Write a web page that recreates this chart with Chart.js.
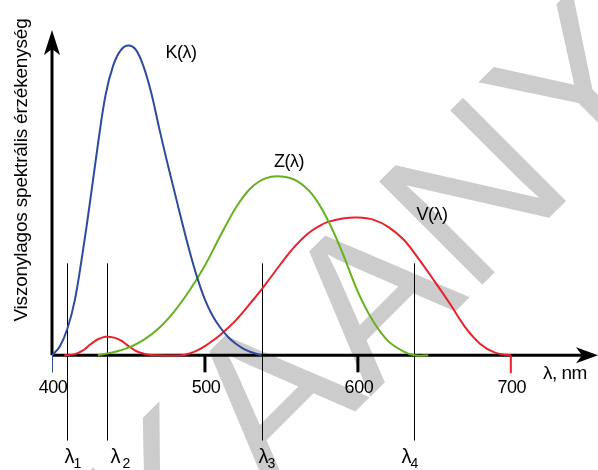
<!DOCTYPE html>
<html>
<head>
<meta charset="utf-8">
<script src="https://cdn.jsdelivr.net/npm/chart.js@4/dist/chart.umd.min.js"></script>
<style>
html,body{margin:0;padding:0;background:#fff;}
canvas{display:block;}
</style>
</head>
<body>
<canvas id="c" width="598" height="470"></canvas>
<script>
// ---- data (wavelength in nm, relative sensitivity) ----
const kWavelengths = [400,405,410,415,420,425,430,435,440,445,450,455,460,465,470,475,480,485,490,495,500,505,510,515,520,525,530,537];
const kValues      = [0,0.028,0.085,0.18,0.33,0.5,0.68,0.84,0.935,0.985,1.0,0.985,0.93,0.845,0.735,0.63,0.53,0.43,0.335,0.25,0.18,0.128,0.09,0.06,0.038,0.022,0.011,0];
const kStartDrop   = [[400,-0.055],[400,0]];

const zWavelengths = [430,440,450,460,470,480,490,500,510,520,530,540,550,560,570,580,590,600,610,620,630,637,646];
const zValues      = [0,0.01,0.025,0.05,0.088,0.142,0.21,0.29,0.385,0.475,0.54,0.572,0.577,0.563,0.52,0.44,0.33,0.205,0.11,0.045,0.012,0,0];

const vWavelengths = [408,415,420,425,430,435,440,445,450,455,460,465,470,485,490,495,500,505,510,515,520,525,530,535,540,545,550,555,560,565,570,575,580,590,600,610,620,630,640,650,660,670,680,690,700];
const vValues      = [0,0.004,0.015,0.035,0.052,0.06,0.058,0.048,0.03,0.014,0.005,0.001,0,0,0.006,0.016,0.03,0.047,0.066,0.088,0.112,0.14,0.17,0.2,0.232,0.265,0.298,0.33,0.358,0.383,0.403,0.418,0.43,0.442,0.445,0.438,0.414,0.373,0.31,0.24,0.168,0.092,0.037,0.008,0];
const vEndDrop     = [[700,0],[700,-0.058]];

const tickValues  = [400,500,600,700];
const tickLabels  = ['400','500','600','700'];
const markedTicks = [500,600];
const lambdaMarks = [410,436,537,637];
const lambdaSubs  = ['1','2','3','4'];
const curveNames  = ['K(λ)','Z(λ)','V(λ)'];
const axisTitleY  = 'Viszonylagos spektrális érzékenység';
const axisTitleX  = 'λ, nm';

const BLUE = '#2c4a9e', GREEN = '#66b21e', RED = '#e8212b';
const FONT = '"Liberation Sans", Arial, sans-serif';

function pts(xs, ys){ return xs.map((x,i)=>({x:x,y:ys[i]})); }
function pairs(a){ return a.map(p=>({x:p[0],y:p[1]})); }

const watermark = {
  id:'watermark',
  beforeDraw(chart){
    const ctx = chart.ctx;
    ctx.save();
    ctx.fillStyle = '#cccccc';
    ctx.font = '212px ' + FONT;
    ctx.translate(270, 497);
    ctx.rotate(-Math.PI/4);
    ctx.textBaseline = 'alphabetic';
    ctx.textAlign = 'right';
    ctx.fillText('K', 0, 0);
    ctx.textAlign = 'left';
    ctx.fillText('AANY', 0, 0);
    ctx.restore();
  }
};

const labelShift = [-3, 3, -4, -13];

const axes = {
  id:'axes',
  beforeDatasetsDraw(chart){
    const ctx = chart.ctx, xs = chart.scales.x, ys = chart.scales.y;
    const x0 = xs.getPixelForValue(400), y0 = ys.getPixelForValue(0);
    const xEnd = xs.getPixelForValue(xs.max), yTop = ys.getPixelForValue(ys.max);
    ctx.save();
    ctx.strokeStyle = '#000'; ctx.fillStyle = '#000';
    ctx.lineWidth = 3;
    ctx.beginPath(); ctx.moveTo(x0, y0); ctx.lineTo(xEnd-12, y0); ctx.stroke();
    ctx.beginPath(); ctx.moveTo(x0, y0); ctx.lineTo(x0, yTop+12); ctx.stroke();
    // arrowheads
    ctx.beginPath();
    ctx.moveTo(xEnd, y0); ctx.lineTo(xEnd-22, y0-8); ctx.lineTo(xEnd-16, y0); ctx.lineTo(xEnd-22, y0+8); ctx.closePath(); ctx.fill();
    ctx.beginPath();
    ctx.moveTo(x0, yTop); ctx.lineTo(x0-8, yTop+25); ctx.lineTo(x0, yTop+19); ctx.lineTo(x0+8, yTop+25); ctx.closePath(); ctx.fill();
    // ticks
    markedTicks.forEach(v=>{
      const px = xs.getPixelForValue(v);
      ctx.beginPath(); ctx.moveTo(px, y0); ctx.lineTo(px, y0+17); ctx.stroke();
    });
    // tick labels
    ctx.font = '18px ' + FONT;
    ctx.letterSpacing = '-0.5px';
    ctx.textAlign = 'center'; ctx.textBaseline = 'middle';
    tickValues.forEach((v,i)=>{
      ctx.fillText(tickLabels[i], xs.getPixelForValue(v)+1, y0+33);
    });
    ctx.textAlign = 'left';
    ctx.font = '19px ' + FONT;
    ctx.fillText(axisTitleX, 543, y0+18);
    // lambda marker lines
    ctx.lineWidth = 1;
    ctx.letterSpacing = '0px';
    lambdaMarks.forEach((v,i)=>{
      const px = Math.round(xs.getPixelForValue(v))+0.5;
      ctx.beginPath(); ctx.moveTo(px, ys.getPixelForValue(0.297)); ctx.lineTo(px, ys.getPixelForValue(-0.275)); ctx.stroke();
      ctx.textAlign = 'left'; ctx.textBaseline = 'alphabetic';
      ctx.font = '20px ' + FONT;
      const lw = ctx.measureText('λ').width;
      const lx = px + labelShift[i];
      ctx.fillText('λ', lx, 463);
      ctx.font = '14px ' + FONT;
      ctx.fillText(lambdaSubs[i], lx + lw - 1 + (i===1 ? 3 : 0), 468);
    });
    // y title
    ctx.save();
    ctx.font = '19px ' + FONT;
    ctx.letterSpacing = '-0.2px';
    ctx.translate(22, 170);
    ctx.rotate(-Math.PI/2);
    ctx.textAlign = 'center'; ctx.textBaseline = 'middle';
    ctx.fillText(axisTitleY, 0, 0);
    ctx.restore();
    // curve labels
    ctx.font = '18px ' + FONT;
    ctx.letterSpacing = '-0.5px';
    ctx.textAlign = 'center'; ctx.textBaseline = 'middle';
    ctx.fillText(curveNames[0], xs.getPixelForValue(484.4), ys.getPixelForValue(0.977));
    ctx.fillText(curveNames[1], xs.getPixelForValue(555), ys.getPixelForValue(0.623));
    ctx.fillText(curveNames[2], xs.getPixelForValue(648.5), ys.getPixelForValue(0.452));
    ctx.restore();
  }
};

const common = {pointRadius:0, borderWidth:2, fill:false, tension:0.35};
new Chart(document.getElementById('c'), {
  type:'line',
  data:{datasets:[
    Object.assign({label:'K', data:pts(kWavelengths,kValues), borderColor:BLUE}, common),
    Object.assign({label:'K0', data:pairs(kStartDrop), borderColor:BLUE}, common, {tension:0}),
    Object.assign({label:'Z', data:pts(zWavelengths,zValues), borderColor:GREEN}, common),
    Object.assign({label:'V', data:pts(vWavelengths,vValues), borderColor:RED}, common),
    Object.assign({label:'V1', data:pairs(vEndDrop), borderColor:RED}, common, {tension:0})
  ]},
  options:{
    responsive:false, animation:false,
    layout:{padding:{left:52,right:0,top:30,bottom:0}},
    plugins:{legend:{display:false}, tooltip:{enabled:false}},
    scales:{
      x:{type:'linear', min:400, max:757, display:false},
      y:{type:'linear', min:-0.37, max:1.05, display:false}
    }
  },
  plugins:[watermark, axes]
});
</script>
</body>
</html>
